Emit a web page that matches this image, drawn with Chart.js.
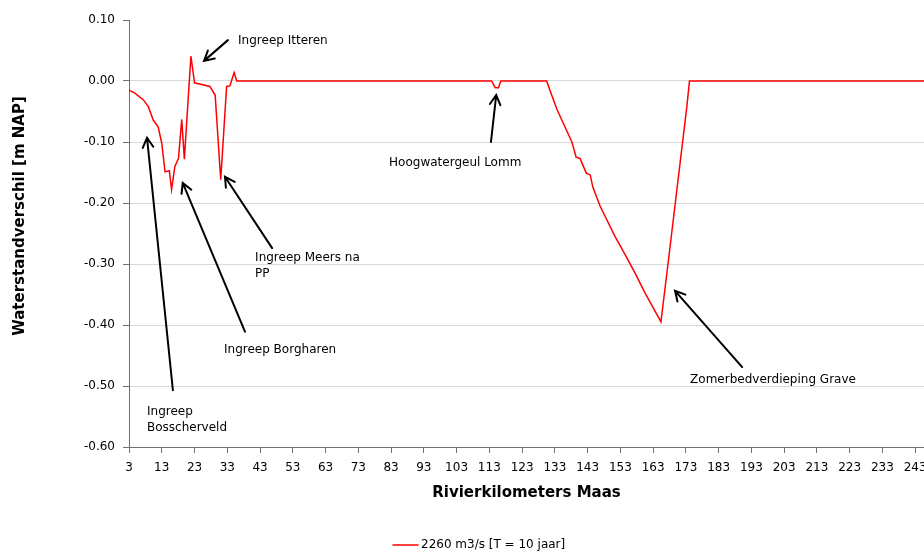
<!DOCTYPE html>
<html>
<head>
<meta charset="utf-8">
<script src="https://cdn.jsdelivr.net/npm/chart.js@4/dist/chart.umd.min.js"></script>
<style>
  html, body { margin: 0; padding: 0; background: #fff; overflow: hidden; }
  #wrap { width: 924px; height: 552px; }
</style>
</head>
<body>
<div id="wrap"><canvas id="chart" width="924" height="552"></canvas></div>
<script>
// river km along the Maas and the water level difference (m NAP)
const KM = [3, 4.8, 7.4, 8.9, 10.4, 11.9, 13.0, 14.0, 15.3, 16.0, 17.0, 18.1, 19.1, 19.9, 21.9, 23.0,
            27.7, 29.3, 31.0, 32.8, 33.8, 35.1, 35.9, 113.7, 114.8, 115.8, 116.5, 130.5, 131.5,
            133.6, 138.2, 139.5, 140.7, 142.6, 143.8, 144.6, 146.8, 151.4, 154.5, 157.5, 160.6,
            165.4, 167.7, 173.3, 174.1, 246];
const DIFF = [-0.015, -0.020, -0.031, -0.042, -0.064, -0.075, -0.102, -0.149, -0.147, -0.178, -0.140,
              -0.127, -0.063, -0.128, 0.041, -0.003, -0.009, -0.023, -0.162, -0.009, -0.008, 0.014,
              0, 0, -0.011, -0.011, 0, 0, -0.015, -0.046, -0.100, -0.125, -0.127, -0.151, -0.154,
              -0.174, -0.205, -0.255, -0.285, -0.315, -0.348, -0.395, -0.293, -0.042, 0, 0];
const SERIES_LABEL = "2260 m3/s [T = 10 jaar]";
const X_TICKS = [3, 13, 23, 33, 43, 53, 63, 73, 83, 93, 103, 113, 123, 133, 143, 153, 163, 173, 183, 193, 203, 213, 223, 233, 243];

// annotations, in data units (km, m)
const NOTE_TEXT = [["Ingreep", "Bosscherveld"], ["Ingreep Borgharen"], ["Ingreep Meers na", "PP"],
                   ["Ingreep Itteren"], ["Hoogwatergeul Lomm"], ["Zomerbedverdieping Grave"]];
const NOTE_KM = [8.5, 32.0, 41.5, 36.3, 82.4, 174.3];
const NOTE_M = [-0.543, -0.441, -0.290, 0.066, -0.134, -0.490];
const FROM_KM = [16.4, 38.4, 46.7, 33.2, 113.5, 190.2];
const FROM_M = [-0.507, -0.411, -0.274, 0.067, -0.100, -0.469];
const TO_KM = [8.5, 19.4, 32.3, 25.9, 115.1, 169.7];
const TO_M = [-0.093, -0.167, -0.157, 0.033, -0.023, -0.344];

const FONT = "'DejaVu Sans', Verdana, sans-serif";
const AXIS_COL = '#707070';

const extras = {
  id: 'extras',
  afterDraw(chart) {
    const { ctx, scales: { x, y } } = chart;
    ctx.save();
    // arrows
    ctx.strokeStyle = '#000'; ctx.lineWidth = 2; ctx.lineCap = 'round';
    for (let i = 0; i < NOTE_TEXT.length; i++) {
      const x1 = x.getPixelForValue(FROM_KM[i]), y1 = y.getPixelForValue(FROM_M[i]);
      const x2 = x.getPixelForValue(TO_KM[i]), y2 = y.getPixelForValue(TO_M[i]);
      const a = Math.atan2(y2 - y1, x2 - x1), h = 11, w = 0.5;
      ctx.beginPath();
      ctx.moveTo(x1, y1); ctx.lineTo(x2, y2);
      ctx.moveTo(x2 - h * Math.cos(a - w), y2 - h * Math.sin(a - w));
      ctx.lineTo(x2, y2);
      ctx.lineTo(x2 - h * Math.cos(a + w), y2 - h * Math.sin(a + w));
      ctx.stroke();
    }
    // labels
    ctx.fillStyle = '#000'; ctx.font = '12px ' + FONT;
    ctx.textAlign = 'left'; ctx.textBaseline = 'middle';
    NOTE_TEXT.forEach((lines, i) => {
      const tx = x.getPixelForValue(NOTE_KM[i]), ty = y.getPixelForValue(NOTE_M[i]);
      lines.forEach((t, j) => ctx.fillText(t, tx, ty + j * 15.5));
    });
    // y axis title
    ctx.font = 'bold 15px ' + FONT;
    ctx.textAlign = 'center';
    ctx.translate(20, 216); ctx.rotate(-Math.PI / 2);
    ctx.fillText('Waterstandverschil [m NAP]', 0, 0);
    ctx.setTransform(1, 0, 0, 1, 0, 0);
    // legend
    const ds = chart.data.datasets[0];
    ctx.strokeStyle = ds.borderColor; ctx.lineWidth = 1.5;
    ctx.beginPath(); ctx.moveTo(393, 545); ctx.lineTo(418, 545); ctx.stroke();
    ctx.font = '12px ' + FONT; ctx.textAlign = 'left';
    ctx.fillText(ds.label, 421, 545);
    ctx.restore();
  }
};

new Chart(document.getElementById('chart'), {
  type: 'line',
  data: {
    datasets: [{
      label: SERIES_LABEL,
      data: KM.map((k, i) => ({ x: k, y: DIFF[i] })),
      borderColor: '#ff0000',
      borderWidth: 1.5,
      pointRadius: 0,
      tension: 0,
      fill: false
    }]
  },
  options: {
    responsive: false,
    animation: false,
    devicePixelRatio: 1,
    layout: { padding: { top: 20, right: 0, bottom: 0, left: 0 } },
    plugins: { legend: { display: false }, tooltip: { enabled: false } },
    scales: {
      x: {
        type: 'linear', min: 3, max: 245.7,
        afterBuildTicks: s => { s.ticks = X_TICKS.map(v => ({ value: v })); },
        afterFit: s => { s.height = 105; s.paddingRight = 0; s.paddingLeft = 0; },
        ticks: { color: '#000', font: { family: FONT, size: 12 }, padding: 8, maxRotation: 0, autoSkip: false,
                 callback: v => String(v) },
        grid: { drawOnChartArea: false, drawTicks: true, tickLength: 6, tickColor: AXIS_COL },
        border: { color: AXIS_COL, width: 1 },
        title: { display: true, text: 'Rivierkilometers Maas', color: '#000',
                 font: { family: FONT, size: 15, weight: 'bold' }, padding: { top: 0, bottom: 50 } }
      },
      y: {
        min: -0.6, max: 0.1,
        afterFit: s => { s.width = 129; },
        ticks: { stepSize: 0.1, color: '#000', font: { family: FONT, size: 12 }, padding: 8,
                 callback: v => v.toFixed(2) },
        grid: { color: c => (c.tick && c.tick.value > 0.09) ? 'rgba(0,0,0,0)' : '#d9d9d9',
                tickLength: 6, tickColor: AXIS_COL },
        border: { color: AXIS_COL, width: 1 }
      }
    }
  },
  plugins: [extras]
});
</script>
</body>
</html>
